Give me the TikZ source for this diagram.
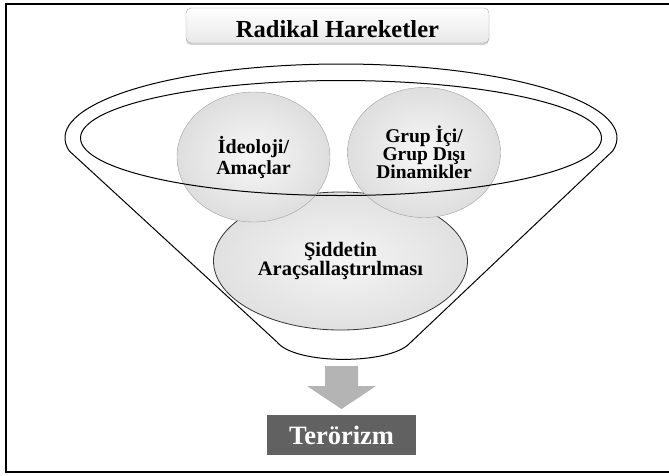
\documentclass[tikz,border=0pt]{standalone}
\usepackage{fontspec}
\setmainfont{Liberation Serif}
\usetikzlibrary{shapes.geometric,shadows}
\definecolor{rimgray}{HTML}{A0A0A0}
\definecolor{arrowgray}{HTML}{B4B4B4}
\definecolor{resgray}{HTML}{616161}
\begin{document}
\begin{tikzpicture}[x=1pt,y=-1pt,
    headbox/.style={rectangle,rounded corners=5pt,draw=gray!70,top color=white,bottom color=gray!18,
        minimum width=303pt,minimum height=35pt,drop shadow={shadow xshift=0pt,shadow yshift=-2pt,opacity=0.35},
        font=\bfseries\fontsize{24.5}{26}\selectfont,text height=23pt,text depth=0pt},
    bubble/.style={ellipse,draw=rimgray,inner color=gray!6,outer color=gray!26,
        minimum width=153pt,minimum height=130pt,inner sep=0pt,align=center},
    core/.style={ellipse,draw=black!80,line width=0.8pt,inner color=gray!8,outer color=gray!24,
        minimum width=254pt,minimum height=138pt,inner sep=0pt,align=center,
        font=\bfseries\fontsize{20.5}{19}\selectfont},
    funnel/.style={draw=black,line width=1pt},
    result/.style={rectangle,fill=resgray,text=white,minimum width=149pt,minimum height=40pt,
        font=\bfseries\fontsize{26.5}{28}\selectfont}
]

\useasboundingbox (0,0) rectangle (669,475);
\draw[line width=2pt] (5.5,4) rectangle (672,472);

\node[headbox] (head) at (337.5,25.5) {Radikal Hareketler};

\node[core] (siddet) at (340.5,261) {Şiddetin\\Araçsallaştırılması};
\node[bubble,font=\bfseries\fontsize{20}{21}\selectfont] (ideo) at (253.5,157) {İdeoloji/\\Amaçlar};
\node[bubble,font=\bfseries\fontsize{19.5}{18}\selectfont] (grup) at (424,152.5) {Grup İçi/\\Grup Dışı\\Dinamikler};

\coordinate (rim) at (341,138);
\coordinate (lbot) at (277,342);
\coordinate (rbot) at (410,343);
\draw[funnel] (rim) ellipse [x radius=260.5, y radius=57.5];
\draw[funnel] (lbot) -- ([shift={(170:276 and 74)}]rim)
    arc[start angle=170, end angle=370, x radius=276, y radius=74]
    -- (rbot) .. controls (390,365) and (295,365) .. (lbot);

\coordinate (arr) at (341.5,366);
\fill[arrowgray] (arr) ++(-16.5,0) -- ++(33,0) -- ++(0,20) -- ++(18,0) -- ++(-34.5,23)
    -- ++(-34.5,-23) -- ++(18,0) -- cycle;

\node[result] (teror) at (341.5,435) {Terörizm};

\end{tikzpicture}
\end{document}
